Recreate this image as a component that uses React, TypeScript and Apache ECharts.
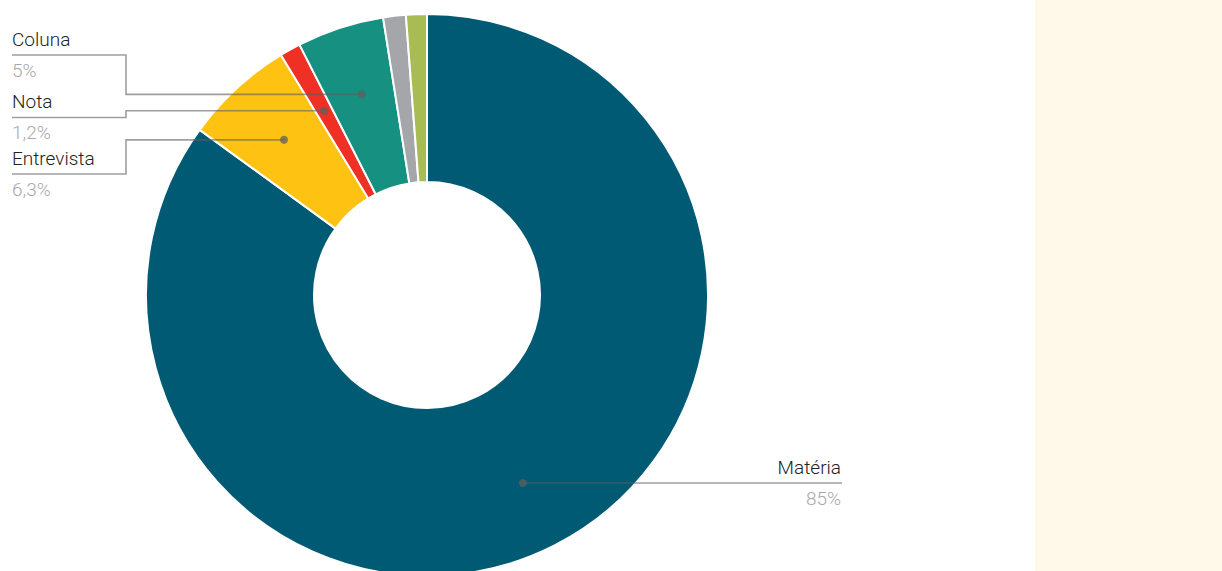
import React, { useEffect, useRef } from "react";
import * as echarts from "echarts";

const categories = ["Matéria", "Entrevista", "Nota", "Coluna", "Outros A", "Outros B"];
const values = [85, 6.3, 1.2, 5, 1.3, 1.2];
const percentLabels = ["85%", "6,3%", "1,2%", "5%", "", ""];
const colors = ["#005A73", "#FDC212", "#EE3124", "#169080", "#A5A6A9", "#A8BC53"];
const labelled = [0, 1, 2, 3];

const CX = 427;
const CY = 295;
const R_IN = 113;
const R_OUT = 281;
const R_DOT = 211;

// label layout per labelled item: left-side labels use an elbow line
const layout: Record<number, { side: "left" | "right"; lineY: number; nameY: number; pctY: number }> = {
  0: { side: "right", lineY: 484, nameY: 467, pctY: 498 },
  1: { side: "left", lineY: 174, nameY: 158, pctY: 189 },
  2: { side: "left", lineY: 117.5, nameY: 101, pctY: 132 },
  3: { side: "left", lineY: 55, nameY: 39.5, pctY: 70 },
};

export default function App() {
  const ref = useRef<HTMLDivElement>(null);
  useEffect(() => {
    if (!ref.current) return;
    const chart = echarts.init(ref.current, undefined, { renderer: "svg" });
    const total = values.reduce((a, b) => a + b, 0);
    const dots: { x: number; y: number }[] = [];
    let cum = 0;
    values.forEach((v) => {
      const th = ((cum + v / 2) / total) * Math.PI * 2;
      dots.push({ x: CX + R_DOT * Math.sin(th), y: CY - R_DOT * Math.cos(th) });
      cum += v;
    });
    const lineColor = "rgba(95,95,95,0.6)";
    const graphics: any[] = [
      { type: "rect", left: 1035, top: 0, shape: { x: 0, y: 0, width: 187, height: 571 }, style: { fill: "#FEF9E8" }, z: -10, silent: true },
    ];
    labelled.forEach((i) => {
      const L = layout[i];
      const d = dots[i];
      let pts: number[][];
      if (L.side === "left") {
        pts = [[12, L.lineY], [126, L.lineY], [126, d.y], [d.x, d.y]];
      } else {
        pts = [[d.x, d.y], [842, d.y]];
      }
      graphics.push({ type: "polyline", shape: { points: pts }, style: { stroke: lineColor, lineWidth: 1.6, fill: null }, z: 10, silent: true });
      graphics.push({ type: "circle", shape: { cx: d.x, cy: d.y, r: 4 }, style: { fill: "rgba(95,95,95,0.75)" }, z: 11, silent: true });
      const tx = L.side === "left" ? 12 : 841;
      const align = L.side === "left" ? "left" : "right";
      graphics.push({ type: "text", x: tx, y: L.nameY, style: { text: categories[i], fill: "#222", font: '300 19px Roboto', align, verticalAlign: "middle" }, z: 12, silent: true });
      graphics.push({ type: "text", x: tx, y: L.pctY, style: { text: percentLabels[i], fill: "#A8A8A8", font: '300 19px Roboto', align, verticalAlign: "middle" }, z: 12, silent: true });
    });
    chart.setOption({
      animation: false,
      backgroundColor: "#fff",
      graphic: graphics,
      series: [
        {
          type: "pie",
          center: [CX, CY],
          radius: [R_IN, R_OUT],
          startAngle: 90,
          clockwise: true,
          silent: true,
          label: { show: false },
          labelLine: { show: false },
          emphasis: { disabled: true },
          itemStyle: { borderColor: "#fff", borderWidth: 2 },
          data: categories.map((c, i) => ({ name: c, value: values[i], itemStyle: { color: colors[i] } })),
        },
      ],
    });
    return () => chart.dispose();
  }, []);
  return <div ref={ref} style={{ position: "fixed", left: 0, top: 0, width: 1222, height: 571 }} />;
}
